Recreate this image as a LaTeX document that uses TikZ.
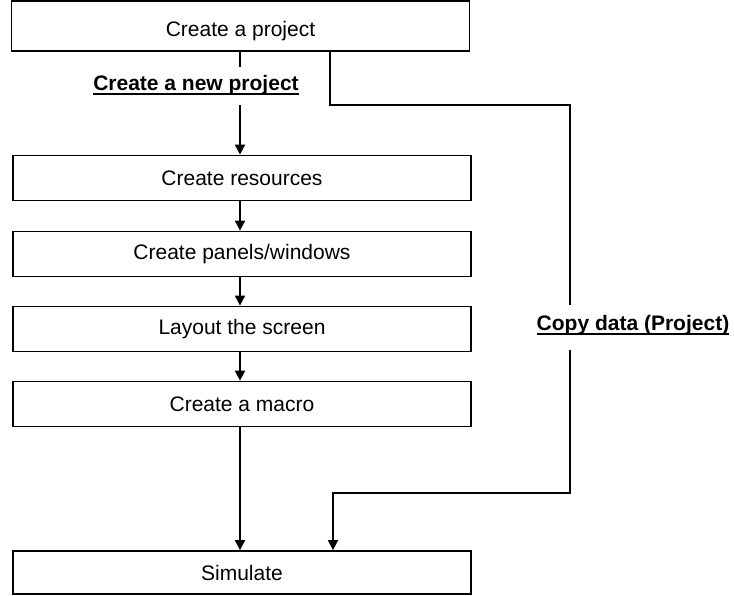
\documentclass[tikz,border=0pt]{standalone}
\usepackage{fontspec}
\setmainfont{Liberation Sans}
\usetikzlibrary{arrows.meta}
\newcommand{\ultxt}[1]{\setbox0=\hbox{#1}\leavevmode\rlap{\copy0}\rule[-4.5pt]{\wd0}{1.8pt}}

\tikzset{
	stepbox/.style={draw, line width=1.8pt, minimum width=458pt, minimum height=45pt, inner sep=0pt, font=\fontsize{21}{25}\selectfont},
	lbl/.style={inner sep=0pt, font=\fontsize{21}{25}\selectfont\bfseries},
	flow/.style={line width=2pt},
	arr/.style={flow, -{Triangle[length=10pt,width=10pt]}}
}

\begin{document}
\begin{tikzpicture}[x=1pt, y=-1pt]
		%%%%% START %%%%%
		\useasboundingbox (0, 0) rectangle (734, 595);
		
		\node[stepbox, minimum height=50pt] (proj) at (240.5, 26) {\raisebox{-5pt}[\height][\depth]{Create a project}};
		\node[stepbox] (res) at (242, 178) {Create resources};
		\node[stepbox] (pan) at (242, 254) {Create panels/windows};
		\node[stepbox] (lay) at (242, 329) {Layout the screen};
		\node[stepbox] (mac) at (242, 404) {Create a macro};
		\node[stepbox, minimum height=43pt] (sim) at (242, 572.5) {Simulate};
		
		\node[lbl] (newlbl) at (196, 85) {\ultxt{Create a new project}};
		\node[lbl] (copylbl) at (633, 325) {\ultxt{Copy data (Project)}};
		
		\coordinate (n1) at (240, 67);
		\coordinate (n2) at (240, 105);
		\coordinate (c0) at (330, 51);
		\coordinate (c1) at (570, 105);
		\coordinate (c2) at (570, 305);
		\coordinate (c3) at (570, 350);
		\coordinate (c4) at (333, 493);
		
		\draw[flow] (proj.south -| n1) -- (n1);
		\draw[arr] (n2) -- (res.north -| n2);
		\draw[arr] (res.south -| n2) -- (pan.north -| n2);
		\draw[arr] (pan.south -| n2) -- (lay.north -| n2);
		\draw[arr] (lay.south -| n2) -- (mac.north -| n2);
		\draw[arr] (mac.south -| n2) -- (sim.north -| n2);
		
		\draw[flow] (c0) |- (c1) -- (c2);
		\draw[arr] (c3) |- (c4) -- (sim.north -| c4);
		
		%%%%% END %%%%%
	\end{tikzpicture}
\end{document}
